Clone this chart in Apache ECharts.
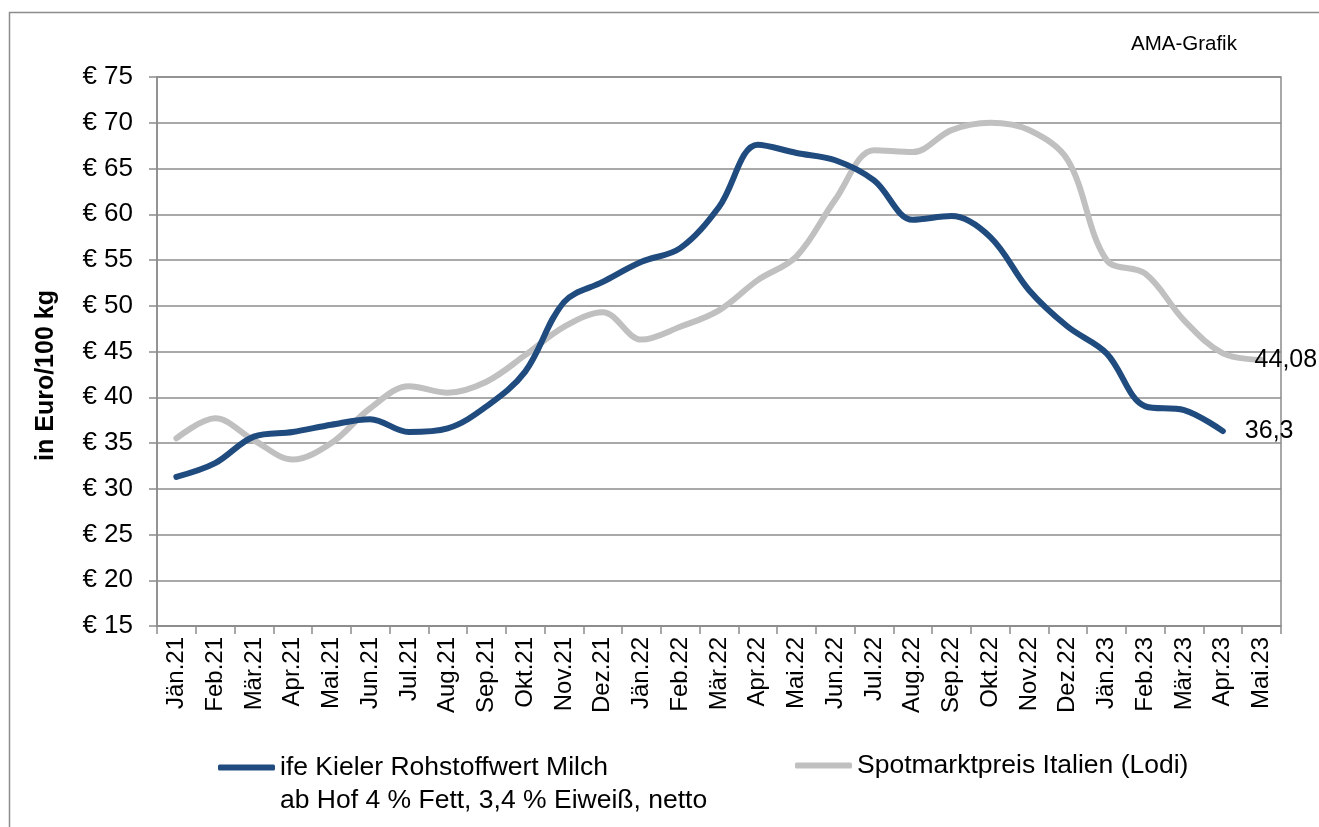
<!DOCTYPE html>
<html>
<head>
<meta charset="utf-8">
<script src="https://cdn.jsdelivr.net/npm/echarts@6/dist/echarts.min.js"></script>
<style>
html,body{margin:0;padding:0;background:#fff;}
#c{width:1319px;height:827px;}
</style>
</head>
<body>
<div id="c"></div>
<script>
const categories = ["Jän.21","Feb.21","Mär.21","Apr.21","Mai.21","Jun.21","Jul.21","Aug.21","Sep.21","Okt.21","Nov.21","Dez.21","Jän.22","Feb.22","Mär.22","Apr.22","Mai.22","Jun.22","Jul.22","Aug.22","Sep.22","Okt.22","Nov.22","Dez.22","Jän.23","Feb.23","Mär.23","Apr.23","Mai.23"];
const kielerValues = [31.3,32.8,35.7,36.2,37.0,37.6,36.2,36.6,39.0,42.8,50.4,52.6,54.8,56.3,60.8,67.6,66.7,65.9,63.7,59.4,59.8,57.5,51.7,47.7,44.8,39.0,38.6,36.3,null];
const lodiValues = [35.5,37.7,35.3,33.2,35.0,38.8,41.2,40.5,41.7,44.6,47.7,49.3,46.3,47.7,49.5,52.8,55.4,61.6,67.0,66.8,69.2,70.0,69.2,65.9,55.0,53.5,48.4,44.8,44.08];
const kielerName = "ife Kieler Rohstoffwert Milch\nab Hof 4 % Fett, 3,4 % Eiweiß, netto";
const lodiName = "Spotmarktpreis Italien (Lodi)";

const font = 'Liberation Sans, Arial, sans-serif';
const chart = echarts.init(document.getElementById('c'), null, {renderer: 'canvas'});
const endLabel = (distance, offset) => ({
  show: true, distance: distance, offset: offset,
  formatter: p => String(p.value).replace('.', ','),
  fontSize: 25, color: '#000', fontFamily: font
});
chart.setOption({
  animation: false,
  backgroundColor: '#fff',
  textStyle: {fontFamily: font},
  title: {text: 'AMA-Grafik', left: 1131, top: 34, padding: 0, textStyle: {fontSize: 20.5, fontWeight: 'normal', color: '#000', fontFamily: font}},
  graphic: [{type: 'rect', shape: {x: 9.5, y: 12.5, width: 1330, height: 840}, style: {fill: 'none', stroke: '#8c8c8c', lineWidth: 1.5}, silent: true}],
  grid: {left: 157, right: 38, top: 77, bottom: 201, show: true, borderColor: '#8c8c8c', borderWidth: 1.5},
  legend: [
    {data: [kielerName], left: 218, top: 718, padding: 0, itemWidth: 57, itemHeight: 6, icon: 'roundRect', itemGap: 0,
      formatter: name => '\n' + name,
      textStyle: {fontSize: 26.5, color: '#000', lineHeight: 33, fontFamily: font}},
    {data: [lodiName], left: 795, top: 749, padding: 0, itemWidth: 57, itemHeight: 6, icon: 'roundRect', itemGap: 0,
      textStyle: {fontSize: 26.5, color: '#000', lineHeight: 33, fontFamily: font}}
  ],
  xAxis: {
    type: 'category', data: categories, boundaryGap: true,
    axisLine: {lineStyle: {color: '#8c8c8c', width: 1.5}},
    axisTick: {show: true, interval: 0, length: 8, lineStyle: {color: '#8c8c8c', width: 1.5}},
    axisLabel: {interval: 0, rotate: 90, fontSize: 24, color: '#000', margin: 11, fontFamily: font}
  },
  yAxis: {
    type: 'value', min: 15, max: 75, interval: 5,
    name: 'in Euro/100 kg', nameLocation: 'middle', nameGap: 98,
    nameTextStyle: {fontSize: 25, fontWeight: 'bold', color: '#000', fontFamily: font, padding: [0, 48, 0, 0]},
    axisLine: {show: true, lineStyle: {color: '#8c8c8c', width: 1.5}},
    axisTick: {show: true, length: 8, lineStyle: {color: '#8c8c8c', width: 1.5}},
    axisLabel: {formatter: v => '€ ' + v, fontSize: 26, color: '#000', margin: 24, fontFamily: font},
    splitLine: {lineStyle: {color: '#8c8c8c', width: 1.5}}
  },
  series: [
    {name: kielerName, type: 'line', data: kielerValues, smooth: 0.35, showSymbol: false,
      lineStyle: {color: '#204B7E', width: 6, cap: 'round'}, itemStyle: {color: '#204B7E'}, z: 3,
      endLabel: endLabel(22, [0, 0])},
    {name: lodiName, type: 'line', data: lodiValues, smooth: 0.35, showSymbol: false,
      lineStyle: {color: '#C0C0C0', width: 6, cap: 'round'}, itemStyle: {color: '#C0C0C0'}, z: 2,
      endLabel: endLabel(5, [-12, 0])}
  ]
});
</script>
</body>
</html>
